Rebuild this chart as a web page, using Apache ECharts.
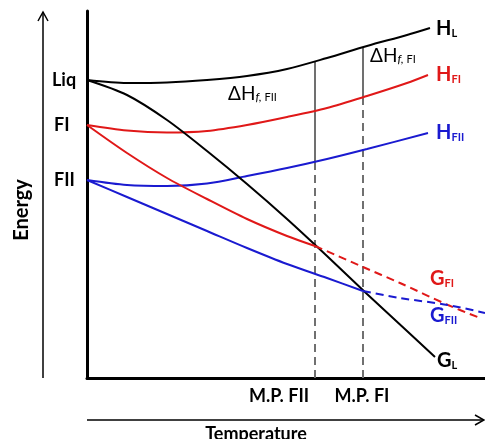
<!DOCTYPE html>
<html><head><meta charset="utf-8">
<script src="https://cdn.jsdelivr.net/npm/echarts@6/dist/echarts.min.js"></script>
<style>html,body{margin:0;padding:0;background:#fff}#c{width:485px;height:439px}</style>
</head><body><div id="c"></div>
<script>
// Schematic energy–temperature diagram (arbitrary units)
const hL   = [[0,298],[40,295],[80,295.5],[120,298],[160,302],[200,309],[240,320],[280,332],[320,343],[343,350]];
const hFI  = [[0,253],[40,247.5],[80,245.5],[120,247],[160,253],[200,261],[240,270],[280,282],[320,295],[341,303]];
const hFII = [[0,198],[40,193],[80,192],[120,194.5],[160,202],[200,210],[240,219],[280,229],[341,245]];
const gL   = [[0,298],[40,283],[80,258],[120,227],[160,194],[200,159],[240,122],[280,84],[320,47],[348,21]];
const gFI  = [[0,253],[40,225],[80,200],[120,179],[160,159],[200,142],[228,132]];
const gFIext  = [[228,132],[276,111],[313,95],[361,73],[393,60]];
const gFII = [[0,198],[40,181],[80,164],[120,147],[160,130],[200,114],[240,100],[276,87]];
const gFIIext = [[276,87],[313,80],[361,73],[398,65]];
const mpFIIsolid = [[228,317],[228,216]];
const mpFIIdash  = [[228,216],[228,0]];
const mpFIsolid  = [[276,331],[276,281]];
const mpFIdash   = [[276,281],[276,0]];
const yTickLabels = ['Liq','FI','FII'];
const xTickLabels = ['M.P. FII','M.P. FI'];

const RED = '#e01818', BLUE = '#1a1ad0', GRAY = '#707070';
const F = 'Lato, "Open Sans", sans-serif';

function line(data, color, dashed, smooth){
  return {type:'line', data, showSymbol:false, symbol:'none', smooth: smooth===false?false:0.3,
    silent:true,
    lineStyle:{color, width:2, type: dashed ? [8,5] : 'solid'}};
}
function sub(x, y, main, s, color){
  return {type:'text', x, y, style:{text:'{m|'+main+'}{s|'+s+'}', verticalAlign:'middle', rich:{
    m:{fontSize:20, fontWeight:'bold', fontFamily:F, fill:color, lineHeight:20, verticalAlign:'bottom'},
    s:{fontSize:11, fontWeight:'bold', fontFamily:F, fill:color, lineHeight:11, verticalAlign:'bottom'}}}};
}
function dh(x, y, s){
  return {type:'text', x, y, style:{text:'{m|ΔH}{i|f,}{s| '+s+'}', verticalAlign:'middle', rich:{
    m:{fontSize:19, fontFamily:F, fill:'#000', lineHeight:20, verticalAlign:'bottom'},
    i:{fontSize:12, fontFamily:F, fontStyle:'italic', fill:'#000', lineHeight:12, verticalAlign:'bottom'},
    s:{fontSize:11, fontFamily:F, fill:'#000', lineHeight:12, verticalAlign:'bottom'}}}};
}
function txt(x, y, t, align, extra){
  return Object.assign({type:'text', x, y, style:{text:t, font:'bold 18px '+F, fill:'#000', align, verticalAlign:'middle'}}, extra||{});
}
const chart = echarts.init(document.getElementById('c'));
chart.setOption({
  animation:false,
  backgroundColor:'#fff',
  grid:{left:87, top:11, width:398, height:367},
  xAxis:{type:'value', min:0, max:398, axisLine:{show:true, lineStyle:{color:'#000', width:3}},
    axisTick:{show:false}, axisLabel:{show:false}, splitLine:{show:false}},
  yAxis:{type:'value', min:0, max:367, axisLine:{show:true, lineStyle:{color:'#000', width:3}},
    axisTick:{show:false}, axisLabel:{show:false}, splitLine:{show:false}},
  series:[
    line(mpFIIsolid, GRAY, false, false), line(mpFIIdash, GRAY, true, false),
    line(mpFIsolid, GRAY, false, false),  line(mpFIdash, GRAY, true, false),
    line(hL,'#000'), line(hFI,RED), line(hFII,BLUE), line(gL,'#000'),
    line(gFI,RED), line(gFIext,RED,true), line(gFII,BLUE), line(gFIIext,BLUE,true)
  ],
  graphic:[
    {type:'line', shape:{x1:43,y1:378,x2:43,y2:12}, style:{stroke:'#000', lineWidth:1.5}},
    {type:'polyline', shape:{points:[[38,21],[43,12],[48,21]]}, style:{stroke:'#000', lineWidth:1.5, fill:null}},
    {type:'line', shape:{x1:87,y1:420,x2:483,y2:420}, style:{stroke:'#000', lineWidth:1.5}},
    {type:'polyline', shape:{points:[[475,415],[484,420],[475,425]]}, style:{stroke:'#000', lineWidth:1.5, fill:null}},
    {type:'text', x:22, y:210, rotation:Math.PI/2, style:{text:'Energy', font:'bold 20px '+F, fill:'#000', align:'center', verticalAlign:'middle'}},
    txt(52, 80, yTickLabels[0], 'left'),
    txt(54, 125, yTickLabels[1], 'left'),
    txt(54, 180, yTickLabels[2], 'left'),
    txt(279, 396, xTickLabels[0], 'center'),
    txt(362, 396, xTickLabels[1], 'center'),
    txt(256, 434, 'Temperature', 'center'),
    dh(228, 93, 'FII'),
    dh(370, 55, 'FI'),
    sub(436, 29, 'H', 'L', '#000'),
    sub(436, 75, 'H', 'FI', RED),
    sub(436, 133, 'H', 'FII', BLUE),
    sub(430, 279, 'G', 'FI', RED),
    sub(430, 316, 'G', 'FII', BLUE),
    sub(437, 361, 'G', 'L', '#000')
  ]
});
</script></body></html>
